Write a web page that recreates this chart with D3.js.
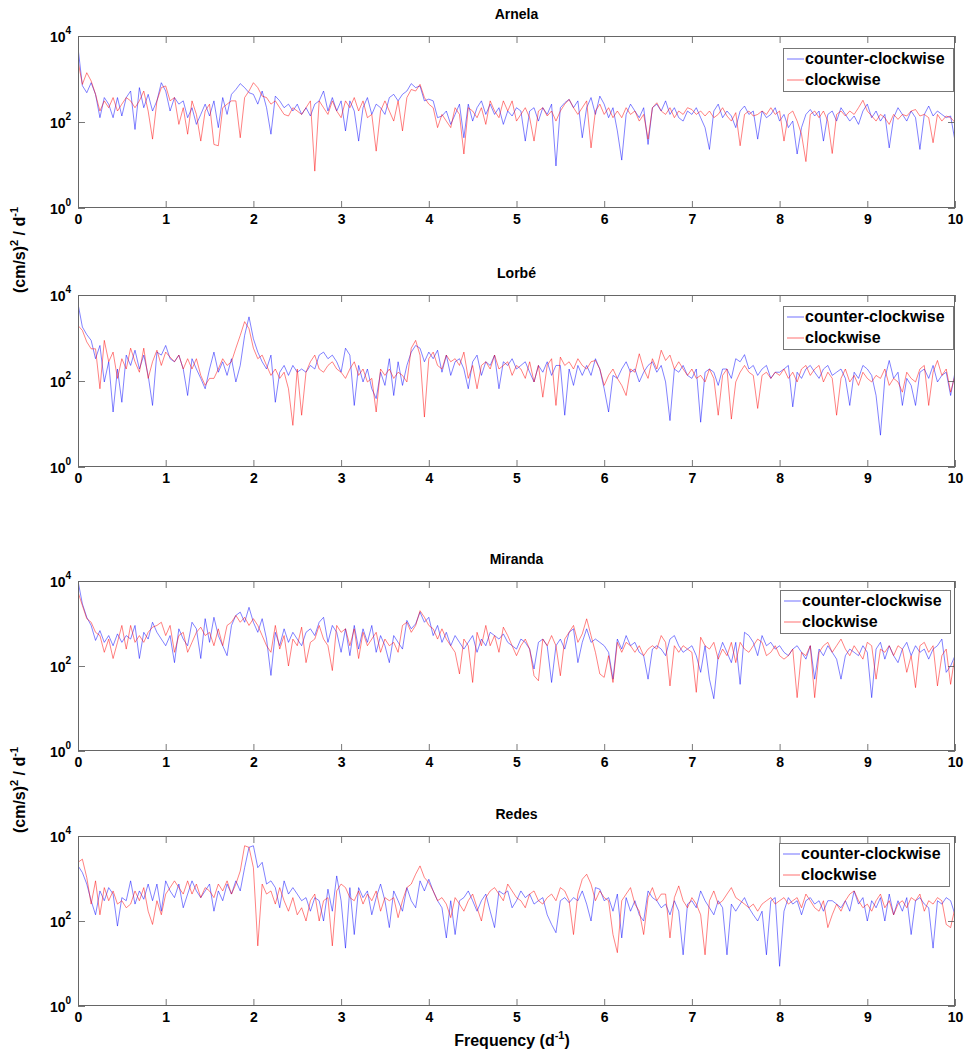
<!DOCTYPE html>
<html>
<head>
<meta charset="utf-8">
<script src="https://cdn.jsdelivr.net/npm/d3@7"></script>
<style>
    body { margin: 0; background: #fff; }
    text { font-family: "Liberation Sans", Arial, Helvetica, sans-serif; font-weight: bold; fill: #000; }
</style>
</head>
<body>
<svg id="chart" width="969" height="1057"></svg>
<script>
const stations = ['Arnela', 'Lorbé', 'Miranda', 'Redes'];
const seriesNames = ['counter-clockwise', 'clockwise'];
const seriesColors = ['#0000ff', '#ff0000'];
const xTicks = [0, 1, 2, 3, 4, 5, 6, 7, 8, 9, 10];
const yTicks = [1, 100, 10000];
const yTickExp = ['0', '2', '4'];
const freqStep = 0.05; // d^-1 between spectral estimates

// spectral power, (cm/s)^2 / d^-1, at 0, 0.05, ... 10 d^-1
const arnelaCcw = [
    5400, 700, 480, 820, 440, 126, 370, 260, 126, 370,
    138, 370, 525, 67, 630, 215, 440, 180, 310, 820,
    525, 180, 370, 260, 310, 126, 215, 88, 150, 260,
    138, 310, 74, 370, 150, 440, 570, 780, 630, 480,
    440, 260, 525, 215, 52, 400, 310, 215, 260, 180,
    260, 150, 215, 138, 260, 310, 525, 180, 370, 180,
    310, 62, 310, 180, 36, 215, 370, 150, 260, 215,
    150, 370, 440, 310, 440, 525, 780, 630, 690, 310,
    340, 310, 126, 138, 180, 88, 150, 260, 43, 260,
    105, 215, 310, 150, 260, 150, 215, 88, 180, 138,
    215,
    180, 36, 180, 215, 105, 215, 150, 260, 9.5, 215,
    280, 335, 215, 310, 43, 215, 370, 150, 400, 260,
    126, 215, 62, 13, 150, 260, 180, 126, 215, 30,
    215, 260, 180, 310, 150, 215, 126, 105, 180, 150,
    215, 126, 74, 23, 180, 260, 126, 180, 138, 74,
    180, 235, 150, 180, 40, 180, 126, 150, 215, 105,
    150, 74, 105, 18, 74, 150, 195, 138, 180, 36,
    150, 180, 105, 215, 150, 105, 138, 88, 180, 260,
    126, 180, 105, 150, 25, 126, 215, 150, 105, 180,
    126, 23, 150, 235, 138, 180, 150, 126, 138, 36
];
const arnelaCw = [
    2600, 750, 1400, 900, 440, 180, 310, 215, 370, 180,
    260, 370, 310, 215, 310, 525, 180, 40, 310, 630,
    690, 310, 370, 88, 215, 52, 310, 150, 36, 180,
    260, 30, 28, 215, 260, 310, 310, 43, 370, 525,
    820, 630, 400, 370, 260, 310, 215, 150, 138, 215,
    180, 150, 215, 310, 7.2, 310, 215, 150, 310, 180,
    126, 310, 215, 370, 180, 310, 126, 150, 21, 180,
    310, 180, 105, 310, 62, 370, 570, 525, 750, 370,
    260, 215, 74, 150, 105, 74, 215, 150, 18, 215,
    180, 126, 215, 88, 310, 180, 126, 310, 180, 310,
    105,
    150, 215, 126, 36, 180, 215, 138, 180, 105, 180,
    260, 335, 215, 150, 215, 310, 25, 180, 260, 150,
    215, 126, 180, 126, 215, 150, 180, 105, 150, 40,
    215, 280, 180, 150, 215, 126, 180, 150, 215, 195,
    150, 180, 138, 180, 126, 150, 215, 138, 105, 165,
    28, 150, 180, 138, 150, 180, 150, 215, 150, 180,
    36, 150, 180, 105, 52, 12, 150, 180, 126, 180,
    105, 18.5, 150, 180, 138, 180, 150, 215, 320, 180,
    138, 105, 150, 126, 88, 150, 115, 150, 138, 180,
    195, 138, 150, 126, 33, 150, 105, 138, 126, 98
];
const lorbeCcw = [
    6300, 1800, 1200, 880, 330, 670, 95, 280, 19, 190,
    32, 400, 230, 520, 190, 400, 135, 27, 470, 400,
    670, 330, 280, 400, 190, 46, 330, 190, 115, 66,
    190, 470, 160, 280, 135, 330, 95, 230, 1150, 3100,
    960, 470, 280, 190, 400, 32, 160, 230, 135, 230,
    160, 190, 160, 230, 190, 400, 470, 330, 400, 280,
    160, 580, 400, 27, 230, 95, 190, 66, 39, 160,
    79, 330, 46, 280, 79, 230, 470, 670, 580, 280,
    470, 330, 520, 160, 400, 135, 280, 330, 190, 66,
    280, 400, 135, 280, 230, 400, 66, 280, 230, 330,
    190,
    230, 280, 160, 95, 230, 160, 280, 135, 230, 230,
    16, 190, 79, 230, 135, 230, 135, 330, 190, 66,
    19, 135, 115, 190, 280, 160, 190, 95, 160, 230,
    280, 160, 230, 95, 12, 190, 160, 230, 135, 115,
    190, 11, 160, 190, 160, 79, 190, 190, 115, 330,
    280, 410, 190, 230, 135, 190, 230, 115, 160, 160,
    190, 230, 25, 160, 115, 190, 230, 160, 115, 190,
    230, 135, 160, 190, 115, 27, 160, 115, 230, 190,
    135, 46, 5.5, 115, 300, 115, 160, 27, 115, 79,
    27, 160, 190, 115, 230, 95, 135, 160, 46, 160
];
const lorbeCw = [
    1950, 1500, 810, 560, 560, 66, 880, 280, 470, 115,
    330, 190, 580, 280, 160, 580, 115, 280, 520, 230,
    470, 360, 280, 400, 190, 330, 190, 330, 135, 79,
    115, 115, 190, 330, 230, 280, 580, 1150, 2400, 1650,
    580, 330, 400, 230, 135, 190, 115, 160, 66, 9.3,
    190, 16, 160, 280, 400, 190, 160, 230, 280, 190,
    160, 115, 190, 280, 135, 190, 95, 115, 19, 190,
    135, 190, 115, 160, 135, 95, 580, 880, 400, 14.5,
    330, 470, 230, 190, 400, 280, 330, 230, 470, 115,
    230, 66, 230, 280, 190, 400, 190, 230, 280, 135,
    230,
    190, 115, 280, 95, 230, 42, 230, 330, 27, 360,
    230, 280, 190, 330, 230, 190, 280, 300, 190, 79,
    135, 190, 115, 79, 46, 190, 160, 430, 190, 115,
    330, 190, 520, 300, 400, 190, 280, 190, 135, 190,
    115, 135, 95, 190, 115, 16, 135, 190, 13, 95,
    160, 230, 160, 135, 23, 135, 160, 115, 160, 135,
    190, 115, 160, 95, 190, 230, 135, 190, 230, 95,
    160, 115, 16, 115, 190, 95, 135, 79, 160, 115,
    95, 135, 115, 190, 79, 115, 95, 55, 160, 115,
    95, 190, 230, 27, 160, 300, 135, 190, 55, 135
];
const mirandaCcw = [
    10000, 2900, 1400, 900, 400, 680, 360, 520, 300, 570,
    360, 520, 430, 900, 150, 620, 430, 1070, 620, 430,
    300, 520, 120, 750, 430, 300, 1070, 750, 150, 1300,
    360, 1400, 520, 300, 175, 900, 1550, 1850, 1070, 2400,
    1070, 620, 1300, 430, 60, 620, 300, 750, 360, 620,
    430, 300, 620, 750, 520, 1070, 1400, 360, 900, 620,
    210, 750, 175, 900, 250, 750, 360, 900, 210, 520,
    300, 120, 520, 360, 250, 1180, 750, 980, 1850, 1070,
    1400, 520, 900, 360, 620, 300, 520, 360, 250, 360,
    520, 210, 430, 300, 620, 520, 430, 570, 360, 300,
    250,
    430, 360, 250, 85, 360, 430, 300, 41, 300, 430,
    250, 620, 750, 120, 360, 750, 360, 430, 360, 300,
    210, 49, 430, 250, 520, 300, 360, 210, 175, 49,
    250, 300, 250, 175, 430, 520, 300, 210, 250, 300,
    175, 71, 300, 49, 17, 175, 360, 210, 120, 360,
    37, 620, 520, 360, 175, 520, 300, 360, 250, 300,
    210, 175, 250, 300, 210, 145, 300, 49, 250, 175,
    300, 210, 145, 49, 175, 250, 210, 175, 300, 210,
    18, 250, 360, 145, 300, 175, 120, 250, 360, 175,
    300, 210, 250, 145, 250, 300, 430, 71, 100, 175
];
const mirandaCw = [
    5500, 2650, 1300, 1070, 620, 520, 210, 430, 150, 360,
    900, 250, 900, 360, 520, 360, 620, 820, 900, 1070,
    520, 900, 210, 520, 620, 210, 360, 620, 820, 520,
    620, 300, 750, 300, 900, 1070, 1550, 1070, 1400, 900,
    1300, 900, 520, 300, 210, 900, 250, 520, 100, 430,
    300, 820, 120, 360, 430, 900, 430, 300, 78, 900,
    620, 750, 300, 750, 150, 620, 300, 430, 620, 210,
    430, 300, 360, 210, 900, 1070, 620, 900, 2000, 1400,
    900, 750, 430, 750, 430, 300, 210, 65, 430, 300,
    41, 620, 300, 900, 300, 520, 210, 820, 520, 300,
    175,
    300, 430, 250, 59, 45, 430, 300, 520, 300, 59,
    430, 620, 900, 360, 570, 1290, 520, 210, 65, 54,
    175, 41, 360, 210, 360, 300, 210, 300, 175, 250,
    300, 250, 520, 360, 34, 300, 210, 300, 250, 210,
    24, 475, 300, 250, 360, 145, 250, 175, 360, 120,
    360, 250, 210, 300, 430, 360, 175, 210, 300, 175,
    145, 175, 250, 18, 210, 175, 300, 18, 210, 300,
    360, 210, 300, 430, 250, 175, 300, 210, 145, 360,
    300, 49, 250, 210, 300, 175, 300, 250, 71, 175,
    31, 300, 360, 210, 300, 34, 175, 250, 37, 175
];
const redesCcw = [
    2000, 1380, 740, 300, 140, 510, 300, 610, 430, 76,
    355, 300, 880, 250, 510, 325, 740, 300, 740, 170,
    880, 510, 355, 740, 205, 430, 880, 510, 355, 510,
    740, 170, 510, 300, 740, 430, 880, 510, 1800, 5400,
    5900, 1800, 2400, 740, 880, 610, 205, 880, 430, 610,
    430, 300, 355, 170, 355, 300, 100, 560, 170, 1150,
    300, 23, 610, 48, 610, 355, 510, 140, 355, 740,
    300, 70, 510, 300, 170, 610, 300, 205, 880, 510,
    960, 510, 300, 205, 40, 300, 48, 300, 355, 510,
    300, 170, 300, 430, 170, 70, 510, 430, 510, 205,
    300,
    510, 355, 430, 250, 300, 355, 140, 83, 53, 300,
    355, 270, 355, 300, 510, 250, 100, 610, 560, 300,
    355, 170, 430, 40, 355, 170, 300, 140, 100, 510,
    355, 300, 205, 250, 140, 300, 170, 16, 250, 300,
    205, 510, 300, 205, 140, 300, 205, 16, 250, 170,
    250, 355, 205, 140, 100, 170, 16, 300, 355, 8.6,
    170, 355, 250, 300, 140, 300, 355, 250, 300, 170,
    300, 300, 250, 205, 300, 170, 510, 250, 355, 100,
    300, 205, 355, 100, 430, 140, 300, 170, 355, 48,
    300, 355, 250, 205, 23, 300, 250, 355, 300, 140
];
const redesCw = [
    2400, 2850, 1050, 250, 880, 140, 610, 300, 510, 250,
    300, 205, 250, 510, 300, 610, 170, 83, 300, 140,
    430, 610, 880, 610, 430, 880, 430, 740, 355, 610,
    510, 355, 740, 510, 880, 430, 740, 1500, 5900, 5400,
    1800, 26, 740, 430, 510, 250, 610, 300, 170, 355,
    140, 205, 100, 300, 430, 100, 300, 355, 26, 510,
    740, 610, 355, 300, 510, 250, 430, 300, 510, 170,
    355, 300, 355, 120, 300, 610, 740, 1260, 1980, 1050,
    800, 510, 300, 355, 250, 120, 355, 250, 170, 300,
    430, 205, 100, 355, 510, 610, 430, 300, 740, 510,
    355,
    300, 205, 430, 510, 300, 250, 355, 430, 300, 610,
    510, 300, 48, 430, 960, 1260, 740, 300, 510, 355,
    300, 48, 18, 300, 430, 610, 250, 170, 48, 355,
    610, 300, 430, 430, 40, 355, 670, 300, 205, 355,
    250, 140, 16, 300, 510, 250, 300, 430, 610, 355,
    300, 250, 205, 250, 170, 250, 300, 355, 250, 300,
    355, 250, 300, 355, 205, 430, 300, 205, 170, 300,
    70, 140, 250, 170, 300, 430, 510, 300, 205, 250,
    170, 300, 430, 205, 300, 140, 250, 300, 205, 355,
    300, 430, 170, 300, 250, 355, 300, 83, 70, 205
];

const spectra = [
    [arnelaCcw, arnelaCw],
    [lorbeCcw, lorbeCw],
    [mirandaCcw, mirandaCw],
    [redesCcw, redesCw]
];

// layout of the four stacked axes
const left = 78, right = 955;
const panelTop = [36, 295, 581, 836];
const panelHeight = [172, 172, 170, 170];
const legendPos = [[783, 48], [783, 306], [780, 590], [779, 843]];
const legendW = 170, legendH = 43;

const svg = d3.select('#chart');

const x = d3.scaleLinear().domain([0, 10]).range([left, right]);

function drawPanel(p) {
    let top = panelTop[p], bottom = top + panelHeight[p];
    let y = d3.scaleLog().domain([1, 10000]).range([bottom, top]);
    let g = svg.append('g');

    let clipId = 'clip' + p;
    g.append('clipPath').attr('id', clipId)
        .append('rect')
        .attr('x', left).attr('y', top)
        .attr('width', right - left).attr('height', bottom - top);

    // spectra: ccw first, cw drawn over it
    let line = d3.line()
        .x((d, i) => x(i * freqStep))
        .y(d => y(d));
    spectra[p].forEach((vals, s) => {
        g.append('path')
            .datum(vals)
            .attr('clip-path', 'url(#' + clipId + ')')
            .attr('fill', 'none')
            .attr('stroke', seriesColors[s])
            .attr('stroke-width', 0.7)
            .attr('stroke-opacity', 0.7)
            .attr('stroke-linejoin', 'round')
            .attr('d', line);
    });

    // bottom axis with labels, inward ticks
    let xb = g.append('g')
        .attr('transform', `translate(0,${bottom})`)
        .call(d3.axisBottom(x).tickValues(xTicks).tickFormat(d3.format('d'))
            .tickSizeInner(-7).tickSizeOuter(0).tickPadding(6));
    // top ticks only
    let xt = g.append('g')
        .attr('transform', `translate(0,${top})`)
        .call(d3.axisTop(x).tickValues(xTicks).tickFormat('')
            .tickSizeInner(-7).tickSizeOuter(0));
    let yl = g.append('g')
        .attr('transform', `translate(${left},0)`)
        .call(d3.axisLeft(y).tickValues(yTicks).tickFormat('')
            .tickSizeInner(-7).tickSizeOuter(0));
    let yr = g.append('g')
        .attr('transform', `translate(${right},0)`)
        .call(d3.axisRight(y).tickValues(yTicks).tickFormat('')
            .tickSizeInner(-7).tickSizeOuter(0));

    [xb, xt, yl, yr].forEach(a => {
        a.select('.domain').remove();
        a.selectAll('line').attr('stroke', '#555').attr('stroke-width', 0.8);
    });
    xb.selectAll('text')
        .style('font-family', '"Liberation Sans", Arial, sans-serif')
        .style('font-weight', 'bold')
        .style('font-size', '14px')
        .attr('fill', '#000');

    // axes box
    g.append('rect')
        .attr('x', left + 0.5).attr('y', top + 0.5)
        .attr('width', right - left - 1).attr('height', bottom - top - 1)
        .attr('fill', 'none')
        .attr('stroke', '#666')
        .attr('stroke-width', 1);

    // y tick labels 10^n
    yTicks.forEach((v, i) => {
        let t = g.append('text')
            .attr('x', left - 28)
            .attr('y', y(v) + 6)
            .style('font-size', '14px');
        t.append('tspan').text('10');
        t.append('tspan')
            .attr('dy', -8)
            .style('font-size', '10px')
            .text(yTickExp[i]);
    });

    // title
    g.append('text')
        .attr('x', (left + right) / 2)
        .attr('y', top - 17)
        .attr('text-anchor', 'middle')
        .style('font-size', '14px')
        .text(stations[p]);

    // legend
    let [lx, ly] = legendPos[p];
    let lg = g.append('g').attr('transform', `translate(${lx},${ly})`);
    lg.append('rect')
        .attr('x', 0.5).attr('y', 0.5)
        .attr('width', legendW).attr('height', legendH)
        .attr('fill', '#fff')
        .attr('stroke', '#777')
        .attr('stroke-width', 1);
    seriesNames.forEach((name, s) => {
        let cy = 11 + s * 21;
        lg.append('line')
            .attr('x1', 4).attr('x2', 21)
            .attr('y1', cy).attr('y2', cy)
            .attr('stroke', seriesColors[s])
            .attr('stroke-width', 0.8)
            .attr('stroke-opacity', 0.7);
        lg.append('text')
            .attr('x', 22)
            .attr('y', cy + 5)
            .style('font-size', '16px')
            .text(name);
    });
}

stations.forEach((name, p) => drawPanel(p));

// shared y label, once per pair of panels
[[25, 250], [25, 790]].forEach(([lx, ly]) => {
    let t = svg.append('text')
        .attr('transform', `translate(${lx},${ly}) rotate(-90)`)
        .attr('text-anchor', 'middle')
        .style('font-size', '16px');
    t.append('tspan').text('(cm/s)');
    t.append('tspan').attr('dy', -7).style('font-size', '11px').text('2');
    t.append('tspan').attr('dy', 7).text(' / d');
    t.append('tspan').attr('dy', -7).style('font-size', '11px').text('-1');
});

// x label
let xl = svg.append('text')
    .attr('x', 512)
    .attr('y', 1046)
    .attr('text-anchor', 'middle')
    .style('font-size', '16px');
xl.append('tspan').text('Frequency (d');
xl.append('tspan').attr('dy', -7).style('font-size', '11px').text('-1');
xl.append('tspan').attr('dy', 7).text(')');
</script>
</body>
</html>
